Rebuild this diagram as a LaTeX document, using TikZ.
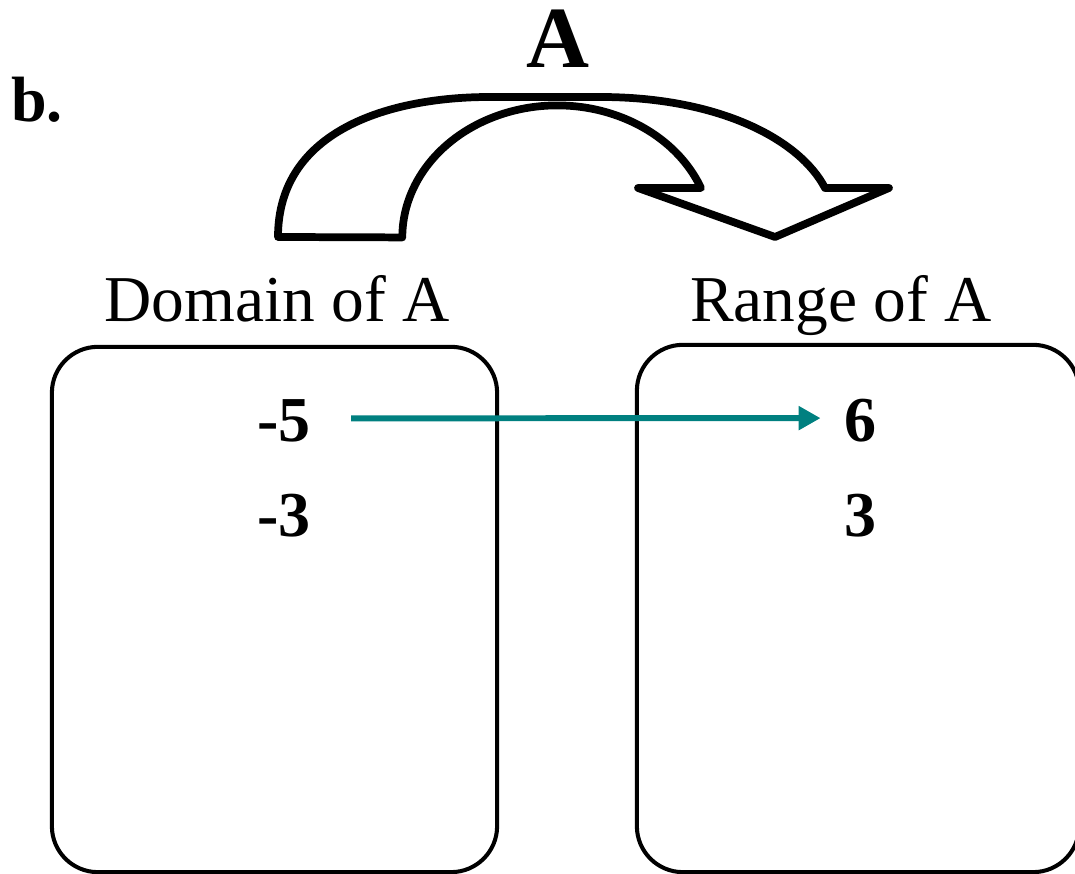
\documentclass[tikz,border=0pt]{standalone}
\usepackage{fontspec}
\setmainfont{Liberation Serif}
\usetikzlibrary{arrows.meta}
\definecolor{mapteal}{RGB}{0,128,128}

\begin{document}
\begin{tikzpicture}[x=0.01cm,y=-0.01cm,>=Stealth,
    setbox/.style={draw,line width=1.15pt,rounded corners=0.46cm,minimum width=4.45cm,minimum height=5.25cm},
    lbl/.style={font=\fontsize{18.6}{22}\selectfont,anchor=base},
    num/.style={font=\fontsize{18.2}{22}\selectfont\bfseries,anchor=base},
    mapto/.style={-{Triangle[length=0.22cm,width=0.23cm]},line width=1.7pt,mapteal}]
    \useasboundingbox (0,0) rectangle (1075,874);
    \node[num] (part) at (37,122) {b.};
    \node[font=\fontsize{24.8}{28}\selectfont\bfseries,anchor=base] (fname) at (558,68) {A};
    % curved arrow for the function
    \draw[line width=2.2pt,line join=round]
        (278,237) .. controls (278,130) and (390,97) .. (490,97)
        -- (600,97) .. controls (720,97) and (800,140) .. (825,188)
        -- (889,188) -- (775,237) -- (638,188) -- (701,188)
        arc[start angle=338,end angle=180,x radius=155,y radius=132]
        -- cycle;
    \node[lbl] (domlbl) at (277,322) {Domain of A};
    \node[lbl] (ranlbl) at (841,322) {Range of A};
    \node[setbox] (dom) at (274.5,609.5) {};
    \node[setbox,minimum width=4.42cm,minimum height=5.27cm] (ran) at (858,608.5) {};
    \node[num] (m5) at (284,442) {-5};
    \node[num] (m3) at (284,537) {-3};
    \node[num] (p6) at (860,442) {6};
    \node[num] (p3) at (860,537) {3};
    \draw[mapto,shorten <=0.28cm,shorten >=0.11cm] ([yshift=0.03cm]m5.east) -- ([yshift=0.03cm]p6.west);
\end{tikzpicture}
\end{document}
